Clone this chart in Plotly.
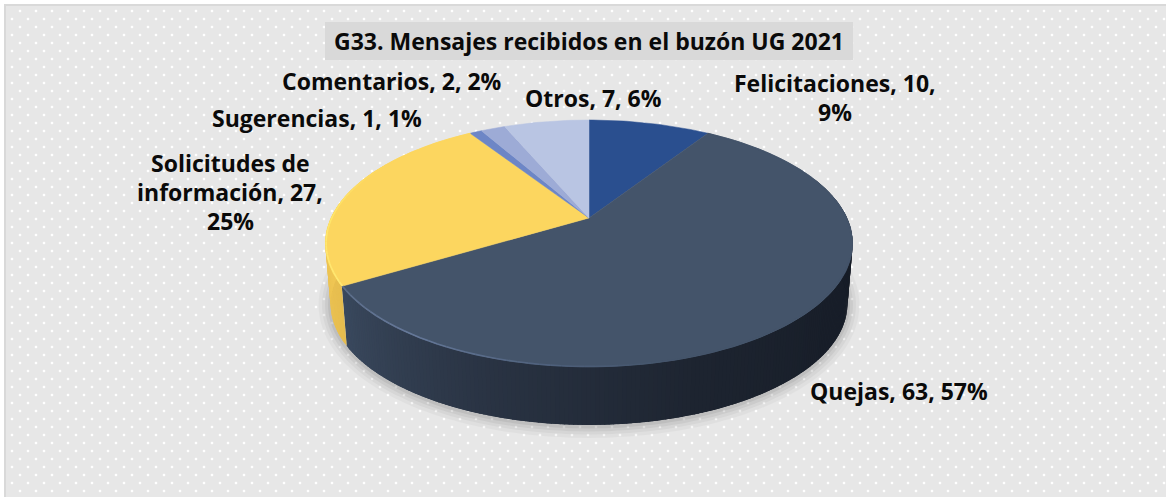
import math
import plotly.graph_objects as go

categories = ["Felicitaciones", "Quejas", "Solicitudes de información", "Sugerencias", "Comentarios", "Otros"]
values = [10, 63, 27, 1, 2, 7]
label_lines = [
    ["Felicitaciones, {v},", "{p}%"],
    ["Quejas, {v}, {p}%"],
    ["Solicitudes de", "información, {v},", "{p}%"],
    ["Sugerencias, {v}, {p}%"],
    ["Comentarios, {v}, {p}%"],
    ["Otros, {v}, {p}%"],
]
label_centres = [(835, 83), (899, 391), (230, 163), (317, 118), (392, 81), (593, 98)]
top_colors = ["#2a4f8f", "#44546a", "#fcd65f", "#6d86c6", "#9dabd6", "#b9c5e3"]
title = "G33. Mensajes recibidos en el buzón UG 2021"

FONT = "Open Sans"
FS = 23
W, H = 1166, 497
CX, CY, R, S, K = 589, 218, 258, 118.2, 0.206
DEPTH, SHRINK = 61, 0.98


def proj(deg, scale=1.0, drop=0.0):
    t = math.radians(deg)
    u, v = math.sin(t), math.cos(t)
    w = 1 + K * v
    return CX + scale * R * u / w, CY + scale * S * v / w * -1 + drop


def mix(a, b, f):
    ca = [int(a[i:i + 2], 16) for i in (1, 3, 5)]
    cb = [int(b[i:i + 2], 16) for i in (1, 3, 5)]
    return "#%02x%02x%02x" % tuple(round(x + (y - x) * f) for x, y in zip(ca, cb))


def ramp(stops, x):
    for (x0, c0), (x1, c1) in zip(stops, stops[1:]):
        if x0 <= x <= x1:
            return mix(c0, c1, (x - x0) / (x1 - x0))
    return stops[0][1] if x < stops[0][0] else stops[-1][1]


side_ramp = {
    1: [(70, "#171d27"), (125, "#181e29"), (160, "#1d2430"), (200, "#2a3444"), (239, "#3a495e")],
    2: [(239, "#e6bd4f"), (290, "#f6cd58")],
}
rim_ramp = {
    1: [(33, "#44546a"), (165, "#44546a"), (185, "#4d5f7a"), (215, "#66799a"), (239, "#5b6c88")],
    2: [(239, "#ffe873"), (270, "#ffe66a"), (300, "#fcd65f")],
}

total = sum(values)
edges = [0.0]
for val in values:
    edges.append(edges[-1] + 360.0 * val / total)

fig = go.Figure()

# background dot texture
dx, dy = [], []
for row, y in enumerate(range(11, H, 8)):
    for x in range(20 if row % 2 == 0 else 12, W, 16):
        dx.append(x)
        dy.append(y)
fig.add_trace(go.Scatter(x=dx, y=dy, mode="markers",
                         marker=dict(symbol="square", size=2.4, color="#ffffff", line=dict(width=0)),
                         hoverinfo="skip"))

# soft shadow under the pie
shadow_deg = [70 + i for i in range(0, 235, 2)]
for width, op in [(24, 0.05), (17, 0.07), (11, 0.09), (5, 0.12)]:
    sx, sy = zip(*[proj(d, SHRINK, DEPTH + 1) for d in shadow_deg])
    fig.add_trace(go.Scatter(x=sx, y=sy, mode="lines", opacity=op,
                             line=dict(color="#666666", width=width, shape="spline"),
                             hoverinfo="skip"))

# extruded side, drawn as thin overlapping strips
for i, (a0, a1) in enumerate(zip(edges, edges[1:])):
    if i not in side_ramp:
        continue
    a = max(a0, 70.0)
    b = min(a1, 300.0)
    n = max(2, int((b - a) / 0.8))
    order = range(n) if i == 2 else range(n - 1, -1, -1)
    for j in order:
        d0 = a + (b - a) * j / n
        d1 = a + (b - a) * (j + 1) / n
        if i == 2:
            lo, hi = d0, min(d1 + 1.0, b)
        else:
            lo, hi = max(d0 - 1.0, a), d1
        p = [proj(lo), proj(hi), proj(hi, SHRINK, DEPTH), proj(lo, SHRINK, DEPTH)]
        col = ramp(side_ramp[i], (d0 + d1) / 2)
        fig.add_trace(go.Scatter(x=[q[0] for q in p] + [p[0][0]], y=[q[1] for q in p] + [p[0][1]],
                                 mode="lines", fill="toself", fillcolor=col,
                                 line=dict(width=0), hoverinfo="skip"))

# top faces
for i, (a0, a1) in enumerate(zip(edges, edges[1:])):
    n = max(4, int((a1 - a0) / 1.0))
    pts = [proj(a0 + (a1 - a0) * j / n) for j in range(n + 1)]
    xs = [CX] + [q[0] for q in pts] + [CX]
    ys = [CY] + [q[1] for q in pts] + [CY]
    fig.add_trace(go.Scatter(x=xs, y=ys, mode="lines", fill="toself", fillcolor=top_colors[i],
                             line=dict(color=top_colors[i], width=0.5), hoverinfo="skip",
                             name=categories[i]))

# bevel highlight on the rim
for i in side_ramp:
    a0, a1 = edges[i], edges[i + 1]
    n = int((a1 - a0) / 2)
    for j in range(n):
        d0 = a0 + (a1 - a0) * j / n
        d1 = a0 + (a1 - a0) * (j + 1) / n
        p0, p1 = proj(d0, 0.997), proj(d1, 0.997)
        fig.add_trace(go.Scatter(x=[p0[0], p1[0]], y=[p0[1], p1[1]], mode="lines",
                                 line=dict(color=ramp(rim_ramp[i], (d0 + d1) / 2), width=1.6),
                                 hoverinfo="skip"))

# labels
annotations = [dict(x=589, y=41, text="<b>%s</b>" % title, showarrow=False, xref="x", yref="y",
                    xanchor="center", yanchor="middle",
                    font=dict(family=FONT, size=FS, color="#0a0a0a"))]
for i, lines in enumerate(label_lines):
    pct = round(100 * values[i] / total)
    cx, cy = label_centres[i]
    for k, line in enumerate(lines):
        annotations.append(dict(x=cx, y=cy + 29 * k, text="<b>%s</b>" % line.format(v=values[i], p=pct),
                                showarrow=False, xref="x", yref="y", xanchor="center", yanchor="middle",
                                font=dict(family=FONT, size=FS, color="#0a0a0a")))

shapes = [
    dict(type="rect", x0=5, y0=5, x1=W + 5, y1=H + 5, fillcolor="#e7e7e7",
         line=dict(color="#d9d9d9", width=2), layer="below"),
    dict(type="rect", x0=325, y0=22, x1=853, y1=60, fillcolor="#d9d9d9",
         line=dict(width=0), layer="above"),
]

fig.update_layout(
    width=W, height=H, margin=dict(l=0, r=0, t=0, b=0), showlegend=False,
    paper_bgcolor="#ffffff", plot_bgcolor="#ffffff",
    xaxis=dict(range=[0, W], visible=False, fixedrange=True),
    yaxis=dict(range=[H, 0], visible=False, fixedrange=True),
    shapes=shapes, annotations=annotations,
)
fig.write_html("out.html", post_script="document.body.style.margin='0';document.body.style.overflow='hidden';",
               config=dict(displayModeBar=False))
